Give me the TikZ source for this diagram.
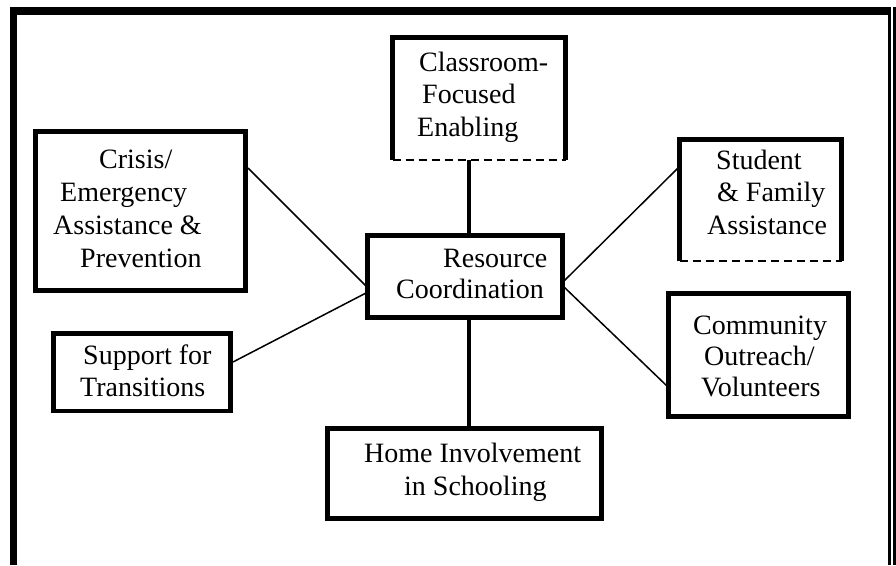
\documentclass[tikz,border=0pt]{standalone}
\usepackage{fontspec}
\setmainfont{Liberation Serif}
\usetikzlibrary{calc}
\tikzset{
  boxsolid/.style={draw, line width=4.6pt, rectangle, inner sep=0pt, outer sep=0pt},
  boxopen/.style={rectangle, inner sep=0pt, outer sep=0pt},
  thickedge/.style={line width=4.6pt},
  dashedge/.style={line width=1.8pt, dash pattern=on 8pt off 5pt},
  vconn/.style={line width=4.2pt},
  thinconn/.style={line width=1.5pt},
  txt/.style={anchor=base west, inner sep=0pt, font=\fontsize{28}{32}\selectfont},
  frame/.style={line width=7.5pt}
}
\begin{document}
\begin{tikzpicture}[x=1pt,y=-1pt]
\useasboundingbox (0,0) rectangle (896,565);
\fill[white] (0,0) rectangle (896,565);
% outer frame
\draw[line width=8pt] (10,11) -- (891,11);
\draw[line width=7pt] (13.5,7) -- (13.5,565);
\draw[line width=3.3pt] (889.3,7) -- (889.3,565);
\draw[line width=3.3pt] (894.3,7) -- (894.3,565);

% boxes
\node[boxopen, minimum width=173pt, minimum height=122.5pt] (cls) at (479,98.75) {};
\node[boxsolid, minimum width=210pt, minimum height=159pt] (crisis) at (140.5,211) {};
\node[boxsolid, minimum width=195pt, minimum height=82pt] (res) at (465,276.5) {};
\node[boxopen, minimum width=162pt, minimum height=121.5pt] (stu) at (760.5,200.25) {};
\node[boxsolid, minimum width=177pt, minimum height=77.5pt] (sup) at (142,372.25) {};
\node[boxsolid, minimum width=274pt, minimum height=90pt] (home) at (464.5,473.5) {};
\node[boxsolid, minimum width=180pt, minimum height=123pt] (com) at (758.5,355) {};

% open boxes with dashed bottom
\draw[thickedge] (cls.south west) -- (cls.north west) -- (cls.north east) -- (cls.south east);
\draw[dashedge] (cls.south west) -- (cls.south east);
\draw[thickedge] (stu.south west) -- (stu.north west) -- (stu.north east) -- (stu.south east);
\draw[dashedge] (stu.south west) -- (stu.south east);

% vertical connectors
\coordinate (vx) at (469,0);
\draw[vconn] (cls.south -| vx) -- (res.north -| vx);
\draw[vconn] (res.south -| vx) -- (home.north -| vx);

% thin connectors
\draw[thinconn] ($(crisis.north east)+(2.5,36.5)$) -- ($(res.north west)+(-1.5,50.5)$);
\draw[thinconn] ($(sup.north east)+(2.5,28.5)$) -- ($(res.north west)+(-1.5,57.5)$);
\draw[thinconn] ($(res.north east)+(1.5,45.5)$) -- ($(stu.north west)+(-1.5,28.5)$);
\draw[thinconn] ($(res.north east)+(1.5,51.5)$) -- ($(com.north west)+(-1.5,92.5)$);

% texts
\node[txt] (c1) at (419,71) {Classroom-};
\node[txt] (c2) at (422,103.5) {Focused};
\node[txt] (c3) at (417,136) {Enabling};

\node[txt] (k1) at (99,168) {Crisis/};
\node[txt] (k2) at (60,201) {Emergency};
\node[txt] (k3) at (53,234) {Assistance \&};
\node[txt] (k4) at (80,267) {Prevention};

\node[txt] (r1) at (443,267) {Resource};
\node[txt] (r2) at (396,298) {Coordination};

\node[txt] (s1) at (716,169) {Student};
\node[txt] (s2) at (717,201) {\& Family};
\node[txt] (s3) at (707,234) {Assistance};

\node[txt] (p1) at (83,364) {Support for};
\node[txt] (p2) at (80,396) {Transitions};

\node[txt] (h1) at (364,462) {Home Involvement};
\node[txt] (h2) at (404,495) {in Schooling};

\node[txt] (m1) at (693,334) {Community};
\node[txt] (m2) at (704,365) {Outreach/};
\node[txt] (m3) at (701,396) {Volunteers};
\end{tikzpicture}
\end{document}
